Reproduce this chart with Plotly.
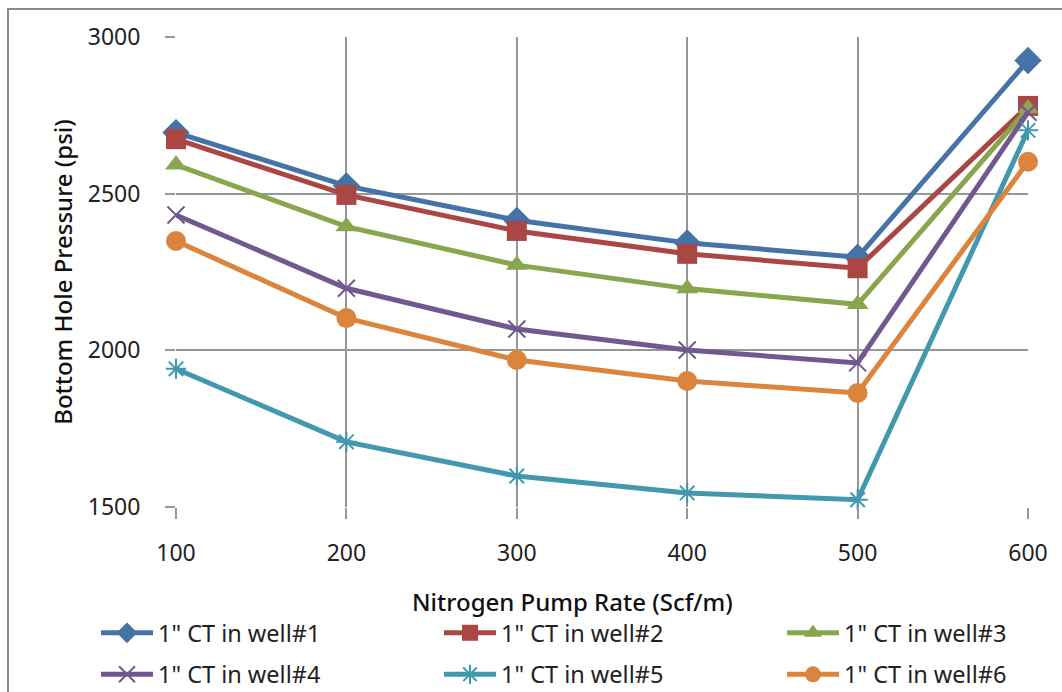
import plotly.graph_objects as go

# Nitrogen pump rate (Scf/m)
pump_rate = [100, 200, 300, 400, 500, 600]

# Bottom hole pressure (psi) for each well
well1 = [2695, 2525, 2415, 2343, 2297, 2925]
well2 = [2674, 2496, 2381, 2308, 2262, 2780]
well3 = [2592, 2395, 2272, 2197, 2147, 2772]
well4 = [2432, 2198, 2068, 2001, 1960, 2760]
well5 = [1941, 1708, 1599, 1545, 1523, 2702]
well6 = [2349, 2103, 1969, 1902, 1864, 2602]

names = ['1" CT in well#1', '1" CT in well#2', '1" CT in well#3',
         '1" CT in well#4', '1" CT in well#5', '1" CT in well#6']
series = [well1, well2, well3, well4, well5, well6]
colors = ["#4572A7", "#AA4643", "#89A54E", "#71588F", "#4198AF", "#DB843D"]
symbols = ["diamond", "square", "triangle-up", "x-thin-open", "asterisk-open", "circle"]
sizes = [21, 20, 19, 17, 17, 20]
legend_ids = ["legend", "legend2", "legend3", "legend", "legend2", "legend3"]

FONT = "Noto Sans"
TXT = "#222222"

fig = go.Figure()
for i, (nm, ys) in enumerate(zip(names, series)):
    thin = symbols[i] in ("x-thin-open", "asterisk-open")
    fig.add_trace(go.Scatter(
        x=pump_rate, y=ys, name=nm, mode="lines+markers",
        line=dict(color=colors[i], width=5),
        marker=dict(symbol=symbols[i], size=sizes[i], color=colors[i],
                    line=dict(color=colors[i], width=2 if thin else 0)),
        cliponaxis=False, legend=legend_ids[i], legendgroup=f"g{i}",
    ))

W, H = 1062, 692
L, R, T, B = 176, 34, 37, 185
pw, ph = W - L - R, H - T - B


def px_x(p):
    return (p - L) / pw


def px_y(p):
    return (H - B - p) / ph


legend_common = dict(
    orientation="v", xanchor="left", yanchor="top", bgcolor="rgba(0,0,0,0)",
    font=dict(family=FONT, size=23.5, color=TXT), itemwidth=52,
    tracegroupgap=8, itemclick=False,
)

fig.update_layout(
    width=W, height=H,
    margin=dict(l=L, r=R, t=T, b=B, autoexpand=False),
    paper_bgcolor="white", plot_bgcolor="white",
    font=dict(family=FONT, color=TXT),
    legend=dict(x=px_x(96), y=px_y(611), **legend_common),
    legend2=dict(x=px_x(439), y=px_y(611), **legend_common),
    legend3=dict(x=px_x(782), y=px_y(611), **legend_common),
    xaxis=dict(
        range=[100, 600], tickvals=pump_rate, showgrid=True,
        gridcolor="#979797", gridwidth=2, zeroline=False,
        ticks="outside", ticklen=11, tickwidth=2, tickcolor="#979797",
        tickfont=dict(family=FONT, size=23, color=TXT), ticklabelstandoff=14,
    ),
    yaxis=dict(
        range=[1500, 3000], tickvals=[1500, 2000, 2500, 3000], showgrid=True,
        gridcolor="#979797", gridwidth=2, zeroline=False,
        ticks="outside", ticklen=10, tickwidth=2, tickcolor="#979797",
        tickfont=dict(family=FONT, size=23, color=TXT), ticklabelstandoff=20,
        title=dict(text="Bottom Hole Pressure (psi)", standoff=8,
                   font=dict(family=FONT, size=24, color="#111111", weight=500)),
    ),
    annotations=[dict(
        text="Nitrogen Pump Rate (Scf/m)", xref="paper", yref="paper",
        x=px_x(572), y=px_y(601), xanchor="center", yanchor="middle",
        showarrow=False, borderpad=0,
        font=dict(family=FONT, size=24, color="#111111", weight=500),
    )],
    shapes=[dict(type="rect", xref="paper", yref="paper",
                 x0=px_x(8), x1=px_x(1200), y0=px_y(800), y1=px_y(9),
                 line=dict(color="#8a8a8a", width=2), layer="below")],
)

fig.write_html("out.html")
